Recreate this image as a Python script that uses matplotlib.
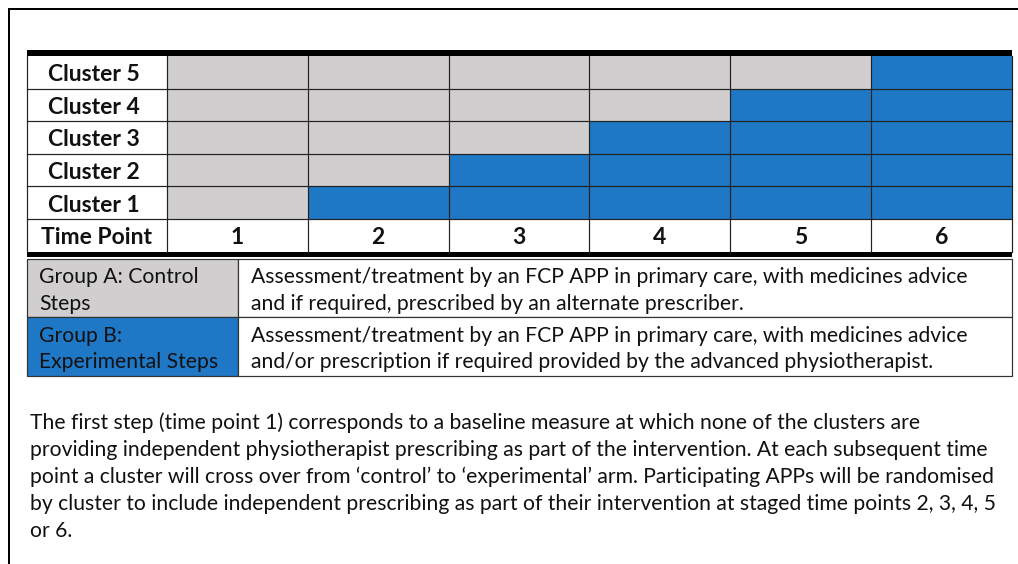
import matplotlib
matplotlib.use("Agg")
import matplotlib.pyplot as plt
from matplotlib.patches import Rectangle

# data
clusters = ["Cluster 5", "Cluster 4", "Cluster 3", "Cluster 2", "Cluster 1"]
crossover = [6, 5, 4, 3, 2]          # time point at which each cluster goes experimental
time_points = [1, 2, 3, 4, 5, 6]
group_labels = [["Group A: Control", "Steps"], ["Group B:", "Experimental Steps"]]
group_desc = [
    ["Assessment/treatment by an FCP APP in primary care, with medicines advice",
     "and if required, prescribed by an alternate prescriber."],
    ["Assessment/treatment by an FCP APP in primary care, with medicines advice",
     "and/or prescription if required provided by the advanced physiotherapist."],
]
paragraph = [
    "The first step (time point 1) corresponds to a baseline measure at which none of the clusters are",
    "providing independent physiotherapist prescribing as part of the intervention. At each subsequent time",
    "point a cluster will cross over from \u2018control\u2019 to \u2018experimental\u2019 arm. Participating APPs will be randomised",
    "by cluster to include independent prescribing as part of their intervention at staged time points 2, 3, 4, 5",
    "or 6.",
]

GREY = "#d0cece"
BLUE = "#1f78c6"
FONT = "Lato"
px = 0.72  # one pixel in points at dpi 100
fs_bold, fs_text = 16.5, 15.2

fig = plt.figure(figsize=(10.18, 5.64), dpi=100)
ax = fig.add_axes([0, 0, 1, 1])
ax.set_xlim(0, 1018)
ax.set_ylim(564, 0)
ax.axis("off")

# outer frame
ax.plot([9, 9, 1018], [564, 9, 9], color="black", lw=2 * px, solid_joinstyle="miter")

# grid geometry
x0, lab_w, col_w = 27, 140, 140.8
y0, row_h = 56, 32.6
ncol = len(time_points)
nrow = len(clusters) + 1
x_end = x0 + lab_w + ncol * col_w
y_end = y0 + nrow * row_h

# cells
for i, (name, cx) in enumerate(zip(clusters, crossover)):
    y = y0 + i * row_h
    for j, t in enumerate(time_points):
        c = BLUE if t >= cx else GREY
        ax.add_patch(Rectangle((x0 + lab_w + j * col_w, y), col_w, row_h, fc=c, ec="none"))
    ax.text(x0 + lab_w / 2 - 3, y + row_h / 2 + 9, name, ha="center", va="baseline",
            fontsize=fs_bold, fontweight="bold", family=FONT, color="#111111")

yt = y0 + len(clusters) * row_h
ax.text(x0 + lab_w / 2, yt + row_h / 2 + 8.5, "Time Point", ha="center", va="baseline",
        fontsize=fs_bold, fontweight="bold", family=FONT, color="#111111")
for j, t in enumerate(time_points):
    ax.text(x0 + lab_w + (j + 0.5) * col_w, yt + row_h / 2 + 8.5, str(t), ha="center",
            va="baseline", fontsize=fs_bold, fontweight="bold", family=FONT, color="#111111")

# grid lines
for i in range(1, nrow):
    ax.plot([x0, x_end], [y0 + i * row_h] * 2, color="#222222", lw=1.2 * px)
for j in range(0, ncol):
    xx = x0 + lab_w + j * col_w
    ax.plot([xx, xx], [y0, y_end], color="#222222", lw=1.2 * px)
ax.plot([x0, x0], [y0, y_end], color="#222222", lw=1.2 * px)
ax.plot([x_end, x_end], [y0, y_end], color="#222222", lw=1.2 * px)
# thick rules
ax.add_patch(Rectangle((x0, y0 - 6), x_end - x0, 6, fc="black", ec="none"))
ax.add_patch(Rectangle((x0, y_end), x_end - x0, 5, fc="black", ec="none"))

# legend block
ly0, lrow_h, lab2_w = y_end + 7, 58.5, 211
for k, (lab, desc) in enumerate(zip(group_labels, group_desc)):
    y = ly0 + k * lrow_h
    ax.add_patch(Rectangle((x0, y), lab2_w, lrow_h, fc=[GREY, BLUE][k], ec="#333333", lw=1.2 * px))
    ax.add_patch(Rectangle((x0 + lab2_w, y), x_end - x0 - lab2_w, lrow_h, fc="white",
                           ec="#333333", lw=1.2 * px))
    for m, line in enumerate(lab):
        ax.text(x0 + 12, y + 24.5 + m * 26.5, line, ha="left", va="baseline",
                fontsize=fs_text, family=FONT, color="#111111")
    for m, line in enumerate(desc):
        ax.text(x0 + lab2_w + 13, y + 24.5 + m * 26.5, line, ha="left", va="baseline",
                fontsize=fs_text, family=FONT, color="#111111")

# paragraph
for m, line in enumerate(paragraph):
    ax.text(30, 429 + m * 27, line, ha="left", va="baseline", fontsize=fs_text,
            family=FONT, color="#111111")

fig.savefig("out.png", dpi=100)
